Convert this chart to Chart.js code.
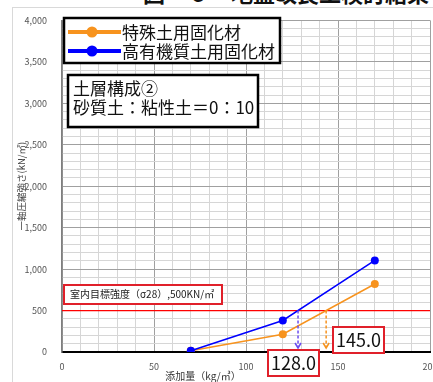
<!DOCTYPE html>
<html lang="ja">
<head>
<meta charset="UTF-8" />
<meta name="viewport" content="width=device-width, initial-scale=1" />
<title>地盤改良工検討結果</title>
<script src="https://cdn.jsdelivr.net/npm/chart.js"></script>
<style>
  html, body { margin: 0; padding: 0; background: #fff; }
  #wrap { position: relative; width: 433px; height: 382px; overflow: hidden; background: #fff; }
  #frame { position: absolute; left: 12px; top: 7px; width: 600px; height: 500px; border: 1px solid #d9d9d9; }
  #fig-title {
    position: absolute; left: 143px; top: -24px;
    font: bold 22px 'Noto Sans CJK JP', sans-serif; white-space: nowrap; color: #111;
  }
  canvas { position: absolute; left: 0; top: 0; }
</style>
</head>
<body>
<div id="wrap">
  <div id="frame"></div>
  <div id="fig-title">図－６　地盤改良工検討結果</div>
  <canvas id="chart" width="470" height="382"></canvas>
</div>

<script>
  // データ（添加量 kg/㎥ と 一軸圧縮強さ kN/㎡）
  const dose = [70, 120, 170];
  const specialSoil = [15, 215, 820];      // 特殊土用固化材
  const organicSoil = [15, 380, 1105];     // 高有機質土用固化材
  const seriesNames = ['特殊土用固化材', '高有機質土用固化材'];
  const seriesColors = ['#f7931e', '#0000ff'];
  const arrowColors = ['#f7931e', '#6a4cf0'];
  const targetStrength = 500;
  const targetLabel = '室内目標強度（σ28）,500KN/㎡';
  const crossLabels = ['145.0', '128.0'];
  const soilNote = ['土層構成②', '砂質土：粘性土＝0：10'];

  const CJK = "'Noto Sans CJK JP', sans-serif";

  // 目標強度と交わる添加量を線形補間で求める
  function crossing(xs, ys, target) {
    for (let i = 0; i < xs.length - 1; i++) {
      if ((ys[i] - target) * (ys[i + 1] - target) <= 0) {
        return xs[i] + (target - ys[i]) * (xs[i + 1] - xs[i]) / (ys[i + 1] - ys[i]);
      }
    }
    return null;
  }

  function boxText(ctx, x, y, w, h, lines, opt) {
    ctx.save();
    ctx.fillStyle = '#fff';
    ctx.fillRect(x, y, w, h);
    ctx.lineWidth = opt.lw;
    ctx.strokeStyle = opt.border;
    ctx.strokeRect(x, y, w, h);
    ctx.fillStyle = opt.color || '#111';
    ctx.font = opt.font;
    ctx.textBaseline = 'middle';
    ctx.textAlign = opt.align || 'left';
    lines.forEach((t, i) => ctx.fillText(t, opt.tx, opt.ty + i * (opt.lh || 0)));
    ctx.restore();
  }

  const annotations = {
    id: 'annotations',
    beforeDatasetsDraw(chart) {
      const { ctx, chartArea, scales: { y } } = chart;
      const py = y.getPixelForValue(targetStrength);
      ctx.save();
      ctx.strokeStyle = '#ff0000';
      ctx.lineWidth = 1.2;
      ctx.beginPath();
      ctx.moveTo(chartArea.left, py);
      ctx.lineTo(chartArea.right, py);
      ctx.stroke();
      ctx.restore();
    },
    afterDatasetsDraw(chart) {
      const { ctx, scales: { x, y } } = chart;
      const py = y.getPixelForValue(targetStrength);
      const p0 = y.getPixelForValue(0);
      [specialSoil, organicSoil].forEach((vals, i) => {
        const cx = crossing(dose, vals, targetStrength);
        if (cx === null) return;
        const px = x.getPixelForValue(cx);
        ctx.save();
        ctx.strokeStyle = arrowColors[i];
        ctx.lineWidth = 1.5;
        ctx.setLineDash([3, 2]);
        ctx.beginPath();
        ctx.moveTo(px, py);
        ctx.lineTo(px, p0 - 4);
        ctx.stroke();
        ctx.setLineDash([]);
        ctx.beginPath();
        ctx.moveTo(px - 3, p0 - 9);
        ctx.lineTo(px, p0 - 4);
        ctx.lineTo(px + 3, p0 - 9);
        ctx.stroke();
        ctx.restore();
      });

      // 目標強度ラベル
      boxText(ctx, 64, 285, 158, 19, [targetLabel], {
        lw: 2, border: '#e0202a', font: '10px ' + CJK, tx: 70, ty: 294.5, color: '#222'
      });
      // 交点の値
      boxText(ctx, 333, 327, 51, 26, [crossLabels[0]], {
        lw: 2, border: '#e0202a', font: '18px ' + CJK, tx: 358.5, ty: 340, align: 'center'
      });
      boxText(ctx, 268, 350, 51, 26, [crossLabels[1]], {
        lw: 2, border: '#e0202a', font: '18px ' + CJK, tx: 293.5, ty: 363, align: 'center'
      });
    },
    afterDraw(chart) {
      const { ctx } = chart;
      // 凡例
      boxText(ctx, 64, 18, 216, 45, [], { lw: 2.5, border: '#000', font: '17px ' + CJK, tx: 0, ty: 0 });
      seriesNames.forEach((name, i) => {
        const cy = 32 + i * 19;
        ctx.save();
        ctx.strokeStyle = seriesColors[i];
        ctx.fillStyle = seriesColors[i];
        ctx.lineWidth = 4;
        ctx.beginPath();
        ctx.moveTo(68, cy);
        ctx.lineTo(121, cy);
        ctx.stroke();
        ctx.beginPath();
        ctx.arc(92, cy, 5.5, 0, Math.PI * 2);
        ctx.fill();
        ctx.fillStyle = '#111';
        ctx.font = '17px ' + CJK;
        ctx.textBaseline = 'middle';
        ctx.fillText(name, 122, cy + 1);
        ctx.restore();
      });
      // 土層構成
      boxText(ctx, 68, 75, 190, 52, soilNote, {
        lw: 2.5, border: '#000', font: '17px ' + CJK, tx: 73, ty: 89, lh: 19
      });
      // x 軸タイトル
      ctx.save();
      ctx.fillStyle = '#333';
      ctx.font = '10px ' + CJK;
      ctx.textAlign = 'center';
      ctx.textBaseline = 'middle';
      ctx.fillText('添加量（kg/㎥）', 203, 376);
      ctx.restore();
    }
  };

  const toPoints = vals => dose.map((d, i) => ({ x: d, y: vals[i] }));

  new Chart(document.getElementById('chart').getContext('2d'), {
    type: 'line',
    data: {
      datasets: [specialSoil, organicSoil].map((vals, i) => ({
        label: seriesNames[i],
        data: toPoints(vals),
        borderColor: seriesColors[i],
        backgroundColor: seriesColors[i],
        borderWidth: 1.5,
        pointRadius: 4,
        pointBorderWidth: 0,
        tension: 0,
        order: 2 - i
      }))
    },
    options: {
      responsive: false,
      animation: false,
      layout: { padding: { left: 0, right: 40, top: 16, bottom: 0 } },
      plugins: { legend: { display: false }, tooltip: { enabled: false } },
      scales: {
        x: {
          type: 'linear',
          min: 0, max: 200,
          afterFit(s) { s.height = 30; },
          border: { color: '#000', width: 2 },
          grid: {
            drawTicks: false,
            lineWidth: 1,
            color: c => c.tick && c.tick.value % 50 === 0 ? '#a0a0a0' : '#d6d6d6'
          },
          ticks: {
            stepSize: 10, autoSkip: false, maxRotation: 0, padding: 9,
            color: '#555', font: { family: CJK, size: 9 },
            callback: v => v % 50 === 0 ? v : ''
          }
        },
        y: {
          min: 0, max: 4000,
          afterFit(s) { s.width = 62; },
          border: { color: '#7f7f7f', width: 1.5 },
          grid: {
            drawTicks: false,
            lineWidth: 1,
            color: c => c.tick && c.tick.value % 500 === 0 ? '#a0a0a0' : '#d6d6d6'
          },
          ticks: {
            stepSize: 100, autoSkip: false, padding: 15,
            color: '#555', font: { family: CJK, size: 9 },
            callback: v => v % 500 === 0 ? v.toLocaleString('en-US') : ''
          },
          title: {
            display: true, text: '一軸圧縮強さ(kN/㎡)',
            color: '#444', font: { family: CJK, size: 9.5 },
            padding: { top: 16, bottom: 0 }
          }
        }
      }
    },
    plugins: [annotations]
  });
</script>
</body>
</html>
